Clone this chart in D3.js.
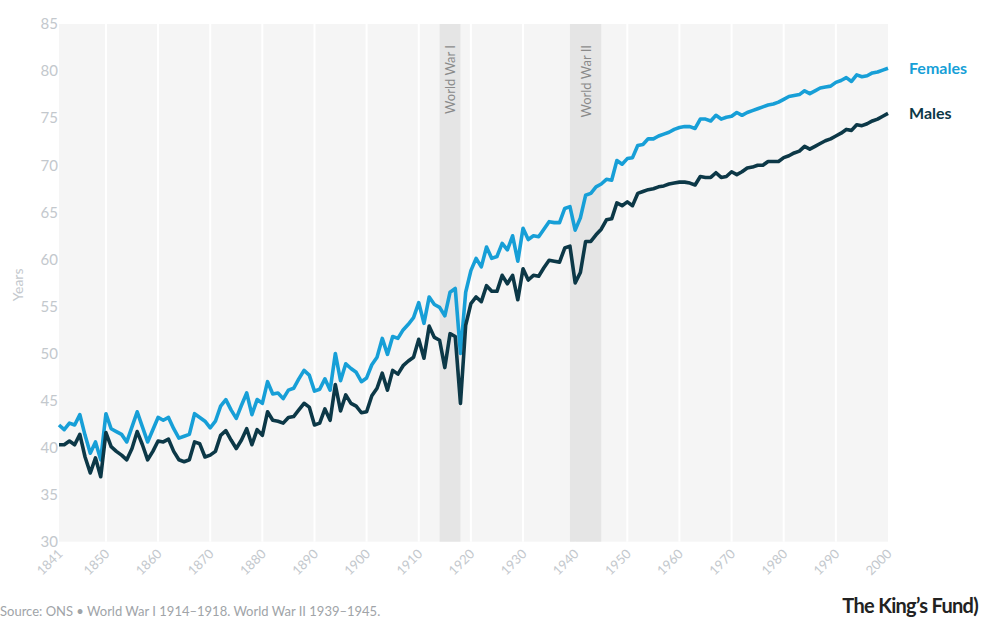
<!DOCTYPE html>
<html>
<head>
<meta charset="utf-8">
<script src="https://cdn.jsdelivr.net/npm/d3@7/dist/d3.min.js"></script>
<style>
  body { margin: 0; background: #fff; }
  svg { font-family: Lato, "Open Sans", sans-serif; }
</style>
</head>
<body>
<svg id="chart" width="981" height="621"></svg>
<script>
// life expectancy at birth, England & Wales, one value per year from 1841
var startYear = 1841;

var females = [
  42.4, 41.9, 42.6, 42.4, 43.5, 41.3, 39.4, 40.6, 38.7,             // 1841-1849
  43.6, 42.0, 41.7, 41.4, 40.6, 42.2, 43.8, 42.2, 40.6, 41.9,       // 1850s
  43.2, 42.9, 43.2, 42.0, 41.0, 41.2, 41.4, 43.6, 43.2, 42.8,       // 1860s
  42.1, 42.8, 44.4, 45.1, 44.0, 43.1, 44.5, 45.8, 43.5, 45.1,       // 1870s
  44.7, 47.0, 45.7, 45.8, 45.2, 46.1, 46.3, 47.3, 48.2, 47.7,       // 1880s
  46.0, 46.2, 47.3, 46.1, 50.0, 47.1, 48.9, 48.4, 48.0, 47.0,       // 1890s
  47.4, 48.8, 49.6, 51.6, 49.9, 51.8, 51.6, 52.5, 53.1, 53.8,       // 1900s
  55.4, 53.2, 56.0, 55.2, 54.9, 54.0, 56.5, 56.9, 50.0, 56.5,       // 1910s
  58.8, 60.1, 59.2, 61.3, 60.1, 60.3, 61.7, 61.0, 62.5, 59.8,       // 1920s
  63.3, 62.1, 62.5, 62.4, 63.2, 64.0, 63.9, 63.9, 65.4, 65.6,       // 1930s
  63.1, 64.4, 66.8, 67.0, 67.7, 68.0, 68.5, 68.4, 70.5, 70.1,       // 1940s
  70.7, 70.8, 72.1, 72.2, 72.8, 72.8, 73.1, 73.3, 73.5, 73.8,       // 1950s
  74.0, 74.1, 74.1, 73.9, 74.9, 74.9, 74.7, 75.3, 74.9, 75.1,       // 1960s
  75.2, 75.6, 75.3, 75.6, 75.8, 76.0, 76.2, 76.4, 76.5, 76.7,       // 1970s
  77.0, 77.3, 77.4, 77.5, 77.9, 77.6, 77.9, 78.2, 78.3, 78.4,       // 1980s
  78.8, 79.0, 79.3, 78.9, 79.6, 79.4, 79.5, 79.8, 79.9, 80.1,       // 1990s
  80.3                                                              // 2000
];

var males = [
  40.3, 40.3, 40.7, 40.3, 41.4, 39.0, 37.3, 38.9, 36.9,
  41.6, 40.1, 39.6, 39.2, 38.7, 39.9, 41.7, 40.3, 38.7, 39.6,
  40.7, 40.6, 40.9, 39.6, 38.7, 38.5, 38.7, 40.6, 40.4, 39.0,
  39.2, 39.6, 41.3, 41.8, 40.8, 39.9, 40.8, 42.0, 40.3, 41.9,
  41.3, 43.8, 42.9, 42.8, 42.6, 43.2, 43.3, 44.0, 44.7, 44.3,
  42.4, 42.6, 44.1, 42.9, 46.7, 43.9, 45.6, 44.7, 44.4, 43.7,
  43.8, 45.5, 46.3, 47.9, 46.1, 48.2, 47.8, 48.7, 49.2, 49.6,
  51.5, 49.5, 52.9, 51.7, 51.4, 48.5, 52.1, 51.8, 44.7, 53.0,
  55.3, 56.0, 55.5, 57.2, 56.6, 56.6, 58.3, 57.4, 58.3, 55.7,
  59.0, 57.8, 58.3, 58.2, 59.1, 59.9, 59.8, 59.7, 61.2, 61.4,
  57.5, 58.6, 61.9, 61.9, 62.6, 63.2, 64.2, 64.3, 66.0, 65.7,
  66.1, 65.7, 67.0, 67.2, 67.4, 67.5, 67.7, 67.8, 68.0, 68.1,
  68.2, 68.2, 68.1, 67.9, 68.8, 68.7, 68.7, 69.2, 68.7, 68.8,
  69.3, 69.0, 69.3, 69.7, 69.8, 70.0, 70.0, 70.4, 70.4, 70.4,
  70.8, 71.0, 71.3, 71.5, 72.0, 71.7, 72.0, 72.3, 72.6, 72.8,
  73.1, 73.4, 73.8, 73.7, 74.3, 74.2, 74.4, 74.7, 74.9, 75.2,
  75.5
];

var seriesNames = ["Females", "Males"];
var seriesColours = ["#179fd7", "#0c3847"];

var xTicks = [1841, 1850, 1860, 1870, 1880, 1890, 1900, 1910, 1920, 1930,
              1940, 1950, 1960, 1970, 1980, 1990, 2000];
var gridYears = [1850, 1860, 1870, 1880, 1890, 1900, 1910, 1920, 1930,
                 1940, 1950, 1960, 1970, 1980, 1990];
var yTicks = [30, 35, 40, 45, 50, 55, 60, 65, 70, 75, 80, 85];

var warNames = ["World War I", "World War II"];
var warStart = [1914, 1939];
var warEnd = [1918, 1945];

var sourceText = "Source: ONS \u2022 World War I 1914\u20131918. World War II 1939\u20131945.";

var width = 981,
  height = 621,
  plot = { left: 59, right: 888, top: 24, bottom: 541.7 };

var svg = d3.select("#chart");

var x = d3.scaleLinear()
          .domain([startYear, startYear + females.length - 1])
          .range([plot.left, plot.right]);

var y = d3.scaleLinear()
          .domain([30, 85])
          .range([plot.bottom, plot.top]);

// plot background
svg.append("rect")
    .attr("x", plot.left)
    .attr("y", plot.top)
    .attr("width", plot.right - plot.left)
    .attr("height", plot.bottom - plot.top)
    .attr("fill", "#f5f5f5");

// vertical gridlines
svg.append("g")
  .selectAll("line")
  .data(gridYears)
  .enter().append("line")
    .attr("x1", function(d) { return x(d); })
    .attr("x2", function(d) { return x(d); })
    .attr("y1", plot.top)
    .attr("y2", plot.bottom)
    .attr("stroke", "#fff")
    .attr("stroke-width", 2);

// war bands
var wars = svg.append("g")
  .selectAll("g")
  .data(warNames)
  .enter().append("g");

wars.append("rect")
    .attr("x", function(d, i) { return x(warStart[i]); })
    .attr("y", plot.top)
    .attr("width", function(d, i) { return x(warEnd[i]) - x(warStart[i]); })
    .attr("height", plot.bottom - plot.top)
    .attr("fill", "#e5e5e5");

wars.append("text")
    .attr("transform", function(d, i) {
      var cx = (x(warStart[i]) + x(warEnd[i])) / 2 + 5;
      return "translate(" + cx + "," + (plot.top + 21) + ") rotate(-90)";
    })
    .attr("text-anchor", "end")
    .attr("font-size", 13)
    .attr("fill", "#8a8a8a")
    .text(function(d) { return d; });

// y axis
var yAxis = svg.append("g")
    .attr("transform", "translate(" + plot.left + ",0)")
    .call(d3.axisLeft(y).tickValues(yTicks).tickSize(0).tickPadding(1));
yAxis.select(".domain").remove();
yAxis.selectAll("text")
    .attr("font-size", 15)
    .attr("font-family", "Lato, sans-serif")
    .attr("fill", "#c3c8cd");

svg.append("text")
    .attr("transform", "translate(23," + ((plot.top + plot.bottom) / 2 + 2) + ") rotate(-90)")
    .attr("text-anchor", "middle")
    .attr("font-size", 14)
    .attr("fill", "#c3c8cd")
    .text("Years");

// x axis
var xAxis = svg.append("g")
    .attr("transform", "translate(0," + plot.bottom + ")")
    .call(d3.axisBottom(x).tickValues(xTicks).tickSize(0).tickFormat(d3.format("d")));
xAxis.select(".domain").remove();
xAxis.selectAll("text")
    .attr("x", 0)
    .attr("y", 0)
    .attr("dy", 0)
    .attr("transform", "translate(4,13) rotate(-45)")
    .attr("text-anchor", "end")
    .attr("font-size", 13)
    .attr("font-family", "Lato, sans-serif")
    .attr("fill", "#c3c8cd");

// lines
var line = d3.line()
    .x(function(d, i) { return x(startYear + i); })
    .y(function(d) { return y(d); });

var allSeries = [females, males];

svg.append("g")
  .selectAll("path")
  .data(allSeries)
  .enter().append("path")
    .attr("d", line)
    .attr("fill", "none")
    .attr("stroke", function(d, i) { return seriesColours[i]; })
    .attr("stroke-width", 3.6)
    .attr("stroke-linejoin", "round");

// labels at line ends
svg.append("g")
  .selectAll("text")
  .data(allSeries)
  .enter().append("text")
    .attr("x", x(startYear + females.length - 1) + 21)
    .attr("y", function(d) { return y(d[d.length - 1]); })
    .attr("dy", "0.35em")
    .attr("font-size", 16)
    .attr("font-weight", "bold")
    .attr("fill", function(d, i) { return seriesColours[i]; })
    .text(function(d, i) { return seriesNames[i]; });

// footer
svg.append("text")
    .attr("x", 0)
    .attr("y", 616)
    .attr("font-size", 13)
    .attr("fill", "#a0a4a8")
    .text(sourceText);

// logo
svg.append("text")
    .attr("x", 978)
    .attr("y", 613)
    .attr("text-anchor", "end")
    .attr("font-size", 20)
    .attr("font-weight", "bold")
    .attr("letter-spacing", -0.7)
    .attr("fill", "#222")
    .text("The King\u2019s Fund)");
</script>
</body>
</html>
